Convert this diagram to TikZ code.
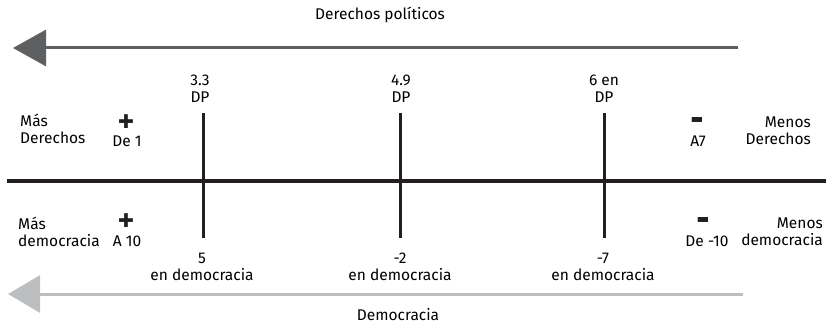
\documentclass[tikz,border=0pt]{standalone}
\usepackage{fontspec}
\setmainfont{Fira Sans}
\newfontfamily\simbolos{DejaVu Sans}
\usetikzlibrary{arrows.meta}
\definecolor{axisdark}{HTML}{231F20}
\definecolor{arrowdark}{HTML}{5E5F61}
\definecolor{arrowlight}{HTML}{BDBEC0}

\begin{document}
\begin{tikzpicture}[x=1pt,y=-1pt,
    every node/.style={inner sep=0pt,font=\fontsize{15.5}{17}\selectfont},
    lbl/.style={align=center},
    masnode/.style={font=\fontsize{19}{19}\simbolos,text=axisdark},
    menosnode/.style={font=\fontsize{13.5}{13.5}\simbolos,text=axisdark},
    tick/.style={line width=3pt,draw=axisdark}]

      \useasboundingbox (0,0) rectangle (826,326);

      % flecha superior
      \path (380,15) node(tit_der){Derechos políticos};
      \coordinate (der_start) at (738,48);
      \coordinate (der_tip) at (13,48);
      \draw[line width=3pt,draw=arrowdark,-{Triangle[length=33pt,width=36pt]},arrowdark] (der_start) -- (der_tip);

      % eje central
      \coordinate (axis_l) at (7,181);
      \coordinate (axis_r) at (826,181);
      \draw[line width=4pt,draw=axisdark] (axis_l) -- (axis_r);

      \path (200,89) node[lbl](dp_a){3.3\\DP};
      \path (401,89) node[lbl](dp_b){4.9\\DP};
      \path (604,89) node[lbl](dp_c){6 en\\DP};
      \coordinate (tick_a_t) at (203,113); \coordinate (tick_a_b) at (203,238);
      \coordinate (tick_b_t) at (400,113); \coordinate (tick_b_b) at (400,238);
      \coordinate (tick_c_t) at (604,113); \coordinate (tick_c_b) at (604,238);
      \draw[tick] (tick_a_t) -- (tick_a_b);
      \draw[tick] (tick_b_t) -- (tick_b_b);
      \draw[tick] (tick_c_t) -- (tick_c_b);
      \path (202,267) node[lbl](dem_a){5\\en democracia};
      \path (400,267) node[lbl](dem_b){-2\\en democracia};
      \path (603,267) node[lbl](dem_c){-7\\en democracia};

      % extremos
      \path (20,129) node[anchor=west,align=left](mas_der){Más\\Derechos};
      \path (126,122) node[masnode](plus_der){✚};
      \path (127,141) node(val_de1){De 1};
      \path (811,131) node[anchor=east,align=right](menos_der){Menos\\Derechos};
      \path (697,121) node[menosnode](minus_der){▬};
      \path (698,141) node(val_a7){A7};

      \path (18,232) node[anchor=west,align=left](mas_dem){Más\\democracia};
      \path (126,221) node[masnode](plus_dem){✚};
      \path (127,241) node(val_a10){A 10};
      \path (823,232) node[anchor=east,align=right](menos_dem){Menos\\democracia};
      \path (703,220) node[menosnode](minus_dem){▬};
      \path (707,241) node(val_de10){De -10};

      % flecha inferior
      \coordinate (dem_start) at (743,294);
      \coordinate (dem_tip) at (8,294);
      \draw[line width=3pt,draw=arrowlight,-{Triangle[length=32pt,width=37pt]},arrowlight] (dem_start) -- (dem_tip);
      \path (398,315) node(tit_dem){Democracia};

    \end{tikzpicture}
\end{document}
